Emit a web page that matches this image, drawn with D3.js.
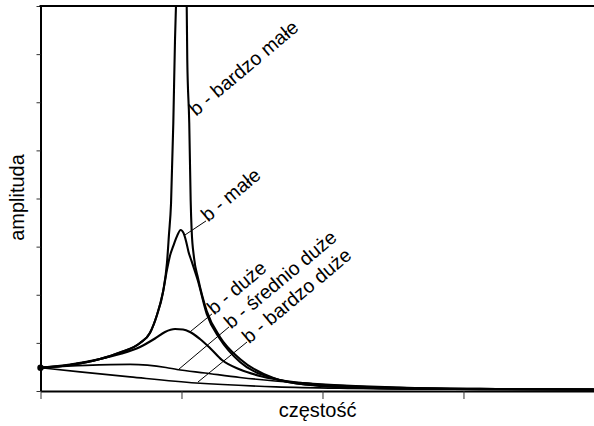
<!DOCTYPE html>
<html>
<head>
<meta charset="utf-8">
<script src="https://cdn.jsdelivr.net/npm/d3@7"></script>
<style>
  body { margin: 0; background: #fff; }
  text { font-family: "Liberation Sans", Arial, sans-serif; fill: #000; }
</style>
</head>
<body>
<div id="chart"></div>
<script>
// chart size
var width = 594;
var height = 426;

// x: frequency in tick units, y: amplitude in tick units
var xTicks = [0, 1, 2, 3];
var yTicks = [0, 1, 2, 3, 4, 5, 6, 7, 8];

// curves: [frequency, amplitude]
var bardzoMale = [[0,0.484],[0.209,0.541],[0.422,0.665],[0.564,0.8],[0.706,0.998],[0.776,1.206],[0.826,1.58],[0.869,2.058],[0.897,2.661],[0.911,3.243],[0.926,3.909],[0.942,5.572],[0.954,7.297],[0.961,8.004],[1.0,11.5],[1.037,8.004],[1.041,6.881],[1.055,5.572],[1.065,3.971],[1.072,3.347],[1.089,2.765],[1.117,2.349],[1.179,1.663],[1.273,1.123],[1.415,0.665],[1.652,0.27],[1.89,0.135],[2.358,0.062],[2.904,0.042],[3.925,0.031]];
var male = [[0,0.484],[0.209,0.541],[0.422,0.665],[0.564,0.8],[0.706,0.998],[0.776,1.206],[0.826,1.58],[0.869,2.058],[0.897,2.516],[0.918,2.807],[0.942,3.015],[0.966,3.202],[0.994,3.347],[1.014,3.285],[1.032,3.119],[1.05,2.89],[1.071,2.703],[1.117,2.287],[1.179,1.601],[1.273,1.081],[1.415,0.603],[1.652,0.264],[1.89,0.131],[2.358,0.058],[2.904,0.04],[3.925,0.029]];
var duze = [[0,0.484],[0.209,0.551],[0.422,0.665],[0.564,0.769],[0.706,0.915],[0.812,1.091],[0.883,1.227],[0.954,1.289],[1.011,1.279],[1.06,1.227],[1.131,1.081],[1.202,0.894],[1.287,0.644],[1.415,0.447],[1.557,0.312],[1.84,0.17],[2.195,0.098],[2.55,0.067],[3.26,0.042],[3.925,0.031]];
var srednioDuze = [[0,0.484],[0.323,0.532],[0.635,0.553],[0.89,0.489],[0.968,0.447],[1.167,0.374],[1.415,0.281],[1.663,0.208],[1.933,0.156],[2.55,0.077],[3.26,0.046],[3.925,0.033]];
var bardzoDuze = [[0,0.484],[0.28,0.397],[0.635,0.293],[1.103,0.166],[1.67,0.087],[2.195,0.056],[2.904,0.037],[3.925,0.029]];

// labels: text, text origin [f, a], leader start/end [f, a] (null = no leader)
var labelText = ["b - bardzo małe", "b - małe", "b - duże", "b - średnio duże", "b - bardzo duże"];
var labelPos = [[1.103,5.7],[1.188,3.5],[1.23,1.57],[1.351,1.28],[1.479,0.97]];
var leaderFrom = [null,[1.025,3.243],[1.06,1.227],[0.975,0.437],[1.117,0.187]];
var leaderTo = [null,[1.174,3.534],[1.216,1.601],[1.337,1.331],[1.465,1.019]];

var svg = d3.select("#chart")
            .append("svg")
            .attr("width", width)
            .attr("height", height);

var xScale = d3.scaleLinear().domain([0, 3.93]).range([40.5, 594.6]);
var yScale = d3.scaleLinear().domain([0, 8]).range([391, 6]);

svg.append("clipPath").attr("id", "plot")
   .append("rect")
   .attr("x", xScale(0)).attr("y", yScale(8))
   .attr("width", xScale(3.93) - xScale(0))
   .attr("height", yScale(0) - yScale(8));

var line = d3.line()
             .x(function(d) { return xScale(d[0]); })
             .y(function(d) { return yScale(d[1]); })
             .curve(d3.curveMonotoneX);

var curves = [
  { data: bardzoDuze, w: 1.7 },
  { data: srednioDuze, w: 1.7 },
  { data: duze, w: 2.1 },
  { data: male, w: 2.1 },
  { data: bardzoMale, w: 2.1 }
];

svg.append("g").attr("clip-path", "url(#plot)")
   .selectAll("path")
   .data(curves)
   .enter()
   .append("path")
   .attr("d", function(d) { return line(d.data); })
   .attr("fill", "none")
   .attr("stroke", "#000")
   .attr("stroke-width", function(d) { return d.w; });

// leader lines
svg.selectAll("line.leader")
   .data(d3.range(labelText.length).filter(function(i) { return leaderFrom[i]; }))
   .enter()
   .append("line")
   .attr("class", "leader")
   .attr("x1", function(i) { return xScale(leaderFrom[i][0]); })
   .attr("y1", function(i) { return yScale(leaderFrom[i][1]); })
   .attr("x2", function(i) { return xScale(leaderTo[i][0]); })
   .attr("y2", function(i) { return yScale(leaderTo[i][1]); })
   .attr("stroke", "#000")
   .attr("stroke-width", 1);

// curve labels
svg.selectAll("text.lab")
   .data(labelText)
   .enter()
   .append("text")
   .attr("class", "lab")
   .attr("transform", function(d, i) {
     return "translate(" + xScale(labelPos[i][0]) + "," + yScale(labelPos[i][1]) + ") rotate(-40)";
   })
   .style("font-size", "19.5px")
   .text(function(d) { return d; });

// axes
var yAxis = svg.append("g")
   .attr("transform", "translate(" + xScale(0) + ",0)")
   .call(d3.axisLeft(yScale).tickValues(yTicks).tickSize(4).tickSizeOuter(0).tickFormat(""));
var xAxis = svg.append("g")
   .attr("transform", "translate(0," + yScale(0) + ")")
   .call(d3.axisBottom(xScale).tickValues(xTicks).tickSize(8).tickSizeOuter(0).tickFormat(""));
[yAxis, xAxis].forEach(function(a) {
  a.select(".domain").attr("stroke", "#000").attr("stroke-width", 2);
  a.selectAll(".tick line").attr("stroke", "#333").attr("stroke-width", 1);
});

// top frame line
svg.append("line")
   .attr("x1", xScale(0) - 1).attr("x2", xScale(3.93))
   .attr("y1", yScale(8)).attr("y2", yScale(8))
   .attr("stroke", "#000").attr("stroke-width", 2);

// start point
svg.append("circle")
   .attr("cx", xScale(bardzoMale[0][0]))
   .attr("cy", yScale(bardzoMale[0][1]))
   .attr("r", 3.2)
   .attr("fill", "#000");

// axis titles
svg.append("text")
   .attr("x", (xScale(0) + xScale(3.93)) / 2)
   .attr("y", 417)
   .attr("text-anchor", "middle")
   .style("font-size", "20px")
   .text("częstość");

svg.append("text")
   .attr("transform", "translate(24," + (yScale(4) - 1) + ") rotate(-90)")
   .attr("text-anchor", "middle")
   .style("font-size", "20px")
   .text("amplituda");
</script>
</body>
</html>
